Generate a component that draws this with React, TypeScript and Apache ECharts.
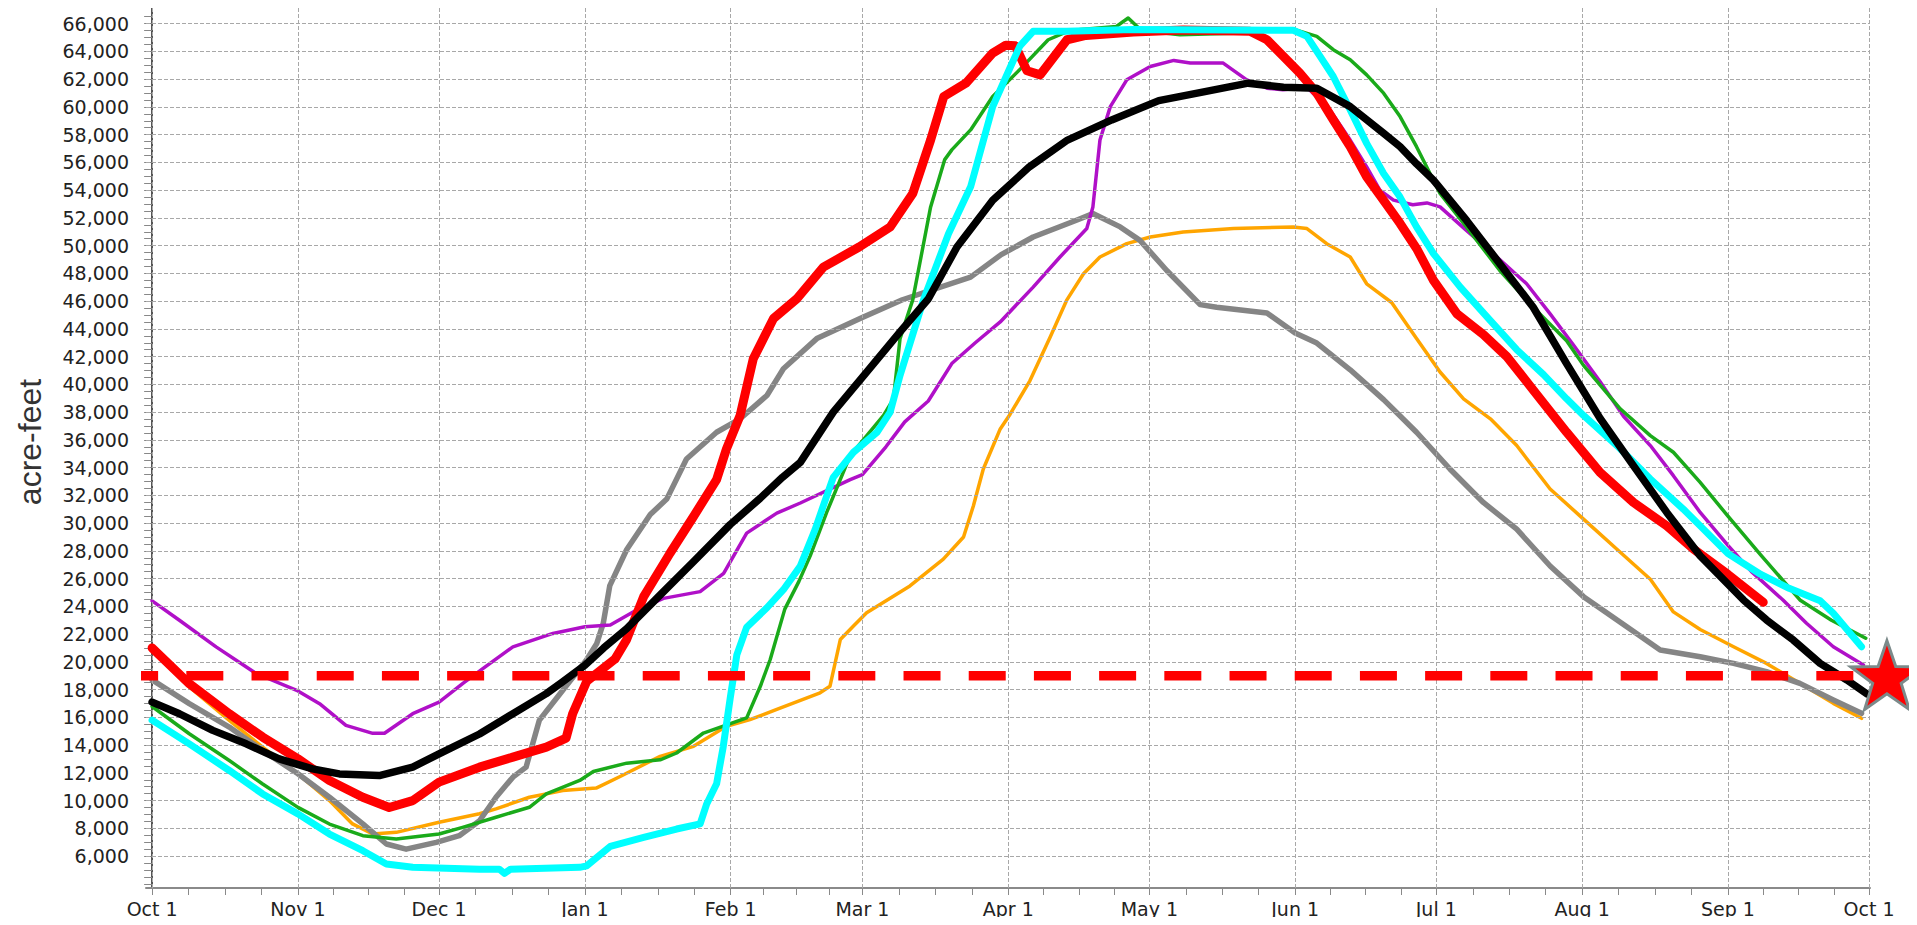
import React, { useEffect, useRef } from "react";
import * as echarts from "echarts";

// Day index: Oct 1 = 0 ... next Oct 1 = 365
const monthDays = [0, 31, 61, 92, 123, 151, 182, 212, 243, 273, 304, 335, 365];
const monthLabels = ["Oct 1", "Nov 1", "Dec 1", "Jan 1", "Feb 1", "Mar 1", "Apr 1", "May 1", "Jun 1", "Jul 1", "Aug 1", "Sep 1", "Oct 1"];
const yTickValues = [6000, 8000, 10000, 12000, 14000, 16000, 18000, 20000, 22000, 24000, 26000, 28000, 30000, 32000, 34000, 36000, 38000, 40000, 42000, 44000, 46000, 48000, 50000, 52000, 54000, 56000, 58000, 60000, 62000, 64000, 66000];
const targetLevel = 19000;

const redData = [[0, 21000], [7.9, 18430], [16.4, 16260], [23.5, 14580], [31, 13010], [37.7, 11450], [44.8, 10240], [50.4, 9500], [55.4, 10000], [61, 11330], [69.6, 12410], [76.7, 13130], [83.8, 13850], [88, 14500], [89.4, 16260], [92.4, 18600], [98.4, 20200], [100.8, 21560], [104.5, 24700], [110.1, 27830], [115.1, 30480], [120, 33130], [122.1, 35350], [125, 37760], [127.8, 41850], [132.1, 44750], [137, 46150], [142.7, 48450], [150.3, 49900], [156.9, 51350], [161.7, 53760], [165.5, 57610], [168.3, 60750], [173, 61710], [178.7, 63880], [181.5, 64450], [183.5, 64400], [186, 62600], [188.8, 62310], [194.5, 64840], [198.5, 65150], [208.6, 65400], [219.2, 65550], [233.4, 65450], [237, 64840], [240.5, 63640], [244, 62430], [247.6, 60990], [251.1, 59060], [254.7, 57130], [258.2, 54960], [261.8, 53270], [265.3, 51600], [268.8, 49800], [272.4, 47500], [277.4, 45080], [283, 43600], [288, 42000], [293.6, 39600], [300.7, 36550], [307.8, 33660], [314.9, 31490], [322, 29800], [327.7, 28120], [335, 26300], [342.5, 24300]];

const blackData = [[0, 17100], [5.8, 16260], [12.9, 15060], [20, 14090], [27, 13010], [34.1, 12290], [39.8, 11925], [48.3, 11800], [55.4, 12410], [61, 13370], [69.6, 14800], [76.7, 16260], [83.8, 17710], [87, 18500], [92, 19760], [96, 21000], [100.9, 22400], [108, 24820], [115.1, 27230], [122.9, 29900], [129.3, 31800], [134, 33300], [137.8, 34380], [144.8, 38000], [151.9, 40890], [159, 43780], [165, 46150], [171.1, 49900], [178.7, 53270], [186.5, 55680], [194.6, 57610], [204, 59060], [214, 60450], [223, 61050], [233, 61710], [240.5, 61420], [247.6, 61350], [254.7, 60020], [261.8, 58100], [265.3, 57130], [268.8, 55900], [272.4, 54720], [279.4, 51830], [286.5, 48700], [293.6, 45560], [300.7, 41500], [307.8, 37560], [314.9, 34140], [322, 30770], [329.1, 27640], [338.3, 24460], [343.2, 23020], [348.9, 21570], [354.6, 19890], [360.3, 18690], [364.5, 17700]];

const grayData = [[0, 18700], [7.9, 16990], [16.4, 15300], [23.5, 13610], [31, 11930], [37.7, 10240], [44.8, 8320], [49.8, 6870], [54, 6500], [60.4, 6990], [65.3, 7470], [69.6, 8550], [73.1, 10240], [76.7, 11690], [79.5, 12410], [82.3, 15780], [87.3, 17950], [92.3, 20120], [94.5, 21300], [95.9, 22770], [97.3, 25500], [100.9, 28100], [105.9, 30620], [109.4, 31730], [113.6, 34620], [120, 36550], [125, 37520], [130.7, 39200], [134.2, 41130], [141.3, 43300], [150.5, 44750], [159.5, 46100], [174, 47730], [180.5, 49350], [187.3, 50620], [196.5, 51830], [200, 52310], [205.8, 51350], [210, 50380], [215.7, 48210], [222.8, 45750], [226.3, 45560], [237, 45150], [243, 43700], [247.6, 42980], [254.7, 41050], [261.8, 38900], [268.8, 36550], [275.9, 33900], [283, 31490], [290.1, 29560], [297.2, 26910], [304.3, 24700], [313.5, 22530], [320.6, 20850], [329.1, 20370], [336.2, 19890], [343.2, 19290], [350.3, 18450], [357.4, 17250], [363.4, 16290]];

const orangeData = [[0, 20900], [7.9, 18190], [16.4, 15780], [23.5, 13850], [31, 11930], [37.7, 10000], [42.6, 8320], [46.9, 7590], [51.9, 7710], [61, 8440], [69.6, 9050], [73.1, 9400], [80.2, 10240], [87.3, 10720], [94.4, 10900], [99.5, 11740], [108, 13190], [115.1, 13910], [122.1, 15360], [127.1, 15840], [132.8, 16570], [142, 17770], [144.1, 18240], [146.3, 21610], [149.1, 22580], [151.9, 23540], [161.1, 25470], [168.2, 27400], [172.5, 29000], [174.6, 31250], [176.7, 33900], [180.3, 36790], [182.4, 37850], [186.6, 40260], [190.9, 43400], [194.4, 46050], [198, 47970], [201.5, 49180], [207.2, 50140], [212.2, 50620], [219.2, 50990], [229.9, 51230], [242.6, 51350], [245.5, 51230], [249.7, 50140], [254.7, 49180], [258.2, 47250], [263.5, 45900], [268.8, 43300], [273.8, 40890], [278.8, 38960], [284.5, 37520], [290.1, 35590], [297.2, 32460], [304.3, 30290], [311.4, 28120], [318.5, 25950], [323.4, 23600], [329.1, 22330], [336.2, 21090], [343.2, 19890], [350.3, 18450], [357.4, 17010], [363.4, 15930]];

const greenData = [[0, 16780], [7.9, 14820], [16.4, 12890], [23.5, 11200], [31, 9510], [37.7, 8310], [44.8, 7470], [51.9, 7230], [61, 7590], [66, 8070], [73.1, 8800], [80.2, 9520], [83.8, 10480], [90.9, 11450], [93.8, 12100], [100.9, 12700], [108, 12940], [111.5, 13430], [117.2, 14870], [126.4, 15960], [129.3, 18240], [131.4, 20170], [134.5, 23800], [137.5, 25800], [139.9, 27640], [143.4, 30770], [148.4, 34860], [155.5, 37760], [157.6, 38960], [159, 43300], [161.7, 46090], [165.5, 52790], [168.5, 56200], [170, 56900], [174, 58340], [178.7, 60750], [184.4, 62670], [190.5, 64840], [195, 65500], [205, 65800], [207.5, 66410], [210.3, 65500], [218.5, 65200], [230, 65300], [242.6, 65610], [247.6, 65080], [251.1, 64120], [254.7, 63400], [258.2, 62310], [261.8, 60990], [265.3, 59300], [268.8, 57130], [273.8, 53760], [279.4, 51350], [286.5, 48210], [293.6, 45560], [300.7, 43150], [304.3, 41370], [312.1, 38240], [318.5, 36310], [323.4, 35110], [329.1, 32940], [335, 30500], [342, 27700], [350.3, 24460], [357, 23000], [364.3, 21700]];

const cyanData = [[0, 15800], [7.9, 14090], [16.4, 12170], [23.5, 10480], [31, 9040], [37.7, 7590], [44.8, 6390], [49.8, 5430], [55.4, 5190], [69.6, 5060], [73.8, 5060], [74.9, 4750], [76.2, 5060], [90.9, 5190], [92.4, 5300], [97.4, 6700], [104.5, 7350], [111.5, 7950], [116.5, 8320], [117.9, 9760], [120, 11210], [121.4, 13860], [122.9, 17400], [124.3, 20500], [126.4, 22500], [130.7, 23900], [134.2, 25200], [137.8, 26900], [140.9, 29500], [143.4, 31940], [144.8, 33300], [149.1, 35110], [154.1, 36550], [156.9, 38000], [159, 40650], [164, 46100], [169.3, 50860], [174, 54240], [178.7, 60020], [182.5, 62910], [184.5, 64400], [187.3, 65450], [194.4, 65450], [208.6, 65570], [230, 65550], [242.6, 65520], [245.5, 65080], [248.3, 63640], [251.1, 62190], [254.7, 59780], [258.2, 57370], [261.8, 55200], [265.3, 53500], [268.8, 51350], [272.4, 49420], [278.1, 47010], [284.5, 44600], [290.1, 42500], [295.8, 40700], [300.7, 38960], [304.3, 37760], [311.4, 35590], [318.5, 33180], [325.5, 31010], [329.1, 29800], [335, 27800], [342, 26300], [348, 25300], [354.6, 24400], [357.4, 23500], [363.4, 21090]];

const purpleData = [[0, 24400], [5.8, 23000], [13.6, 21080], [22.1, 19160], [31, 17900], [35.6, 16985], [41.2, 15420], [46.9, 14850], [49.4, 14850], [55.4, 16263], [61, 17100], [66, 18430], [70.3, 19516], [76.7, 21080], [85.2, 22047], [92, 22530], [97.4, 22650], [103, 23730], [108.7, 24577], [116.5, 25060], [121.5, 26385], [126.4, 29280], [132.8, 30720], [137.8, 31450], [148.4, 33130], [151, 33500], [156, 35500], [160, 37300], [165, 38800], [170, 41500], [175, 43000], [180.3, 44500], [187.3, 47010], [193, 49180], [198.7, 51230], [200, 52790], [201.5, 57610], [203.7, 60020], [207.2, 61950], [212.2, 62915], [217.2, 63350], [220.7, 63160], [227.7, 63160], [232.7, 61950], [237, 61350], [240.4, 61230], [245.5, 61420], [250.4, 59780], [254.7, 57610], [258.2, 55680], [261, 54000], [263.9, 53280], [268, 52950], [271, 53080], [273.8, 52790], [279.4, 51100], [285.1, 49420], [292.2, 47250], [297.2, 45080], [302, 42910], [307.8, 40200], [312.8, 37700], [318.5, 35590], [323.4, 33420], [329.1, 30770], [335, 28400], [340, 26500], [346.7, 24460], [351.7, 22780], [357.4, 21090], [363.8, 19770]];

const targetLineDays = [-4.25, 362.3];
const starDay = 368.8;

function starPoints(cx: number, cy: number, R: number, r: number) {
  const pts: number[][] = [];
  for (let i = 0; i < 10; i++) {
    const a = -Math.PI / 2 + (i * Math.PI) / 5;
    const rad = i % 2 === 0 ? R : r;
    pts.push([cx + rad * Math.cos(a), cy + rad * Math.sin(a)]);
  }
  return pts;
}

export default function App() {
  const ref = useRef<HTMLDivElement>(null);
  useEffect(() => {
    if (!ref.current) return;
    const chart = echarts.init(ref.current, null, { renderer: "svg" });
    const xMinor: number[] = [];
    for (let i = 0; i < monthDays.length - 1; i++) {
      const a = monthDays[i], b = monthDays[i + 1];
      xMinor.push(a, a + (b - a) * 0.25, a + (b - a) * 0.5, a + (b - a) * 0.75);
    }
    xMinor.push(365);
    const yMinor: number[] = [];
    for (let v = 4000; v <= 66500; v += 500) yMinor.push(v);

    const line = (name: string, data: number[][], color: string, width: number, z: number) => ({
      name,
      type: "line",
      data,
      symbol: "none",
      showSymbol: false,
      lineStyle: { color, width, join: "round", cap: "round" },
      z,
      silent: true,
    });

    const fontFamily = "'DejaVu Sans', Verdana, sans-serif";
    const nameText = {
      type: "text",
      x: 30,
      y: 442,
      rotation: Math.PI / 2,
      style: {
        text: "acre-feet",
        fontSize: 32,
        fontFamily: "'Liberation Sans', Arial, sans-serif",
        fill: "#333",
        align: "center",
        verticalAlign: "middle",
      },
    };
    chart.setOption({
      animation: false,
      backgroundColor: "#ffffff",
      grid: { left: 146, right: 47, top: 7, bottom: 37, containLabel: false },
      xAxis: {
        type: "value",
        min: -1.3,
        max: 365.2,
        axisLine: { show: true, lineStyle: { color: "#8a8a8a", width: 2 } },
        axisTick: { show: true, customValues: xMinor, length: 7, lineStyle: { color: "#8a8a8a", width: 1 } },
        axisLabel: {
          customValues: monthDays,
          formatter: (v: number) => {
            const i = monthDays.indexOf(Math.round(v));
            return i >= 0 ? monthLabels[i] : "";
          },
          fontSize: 19,
          fontFamily,
          color: "#222",
          margin: 11,
        },
        splitLine: { show: false },
      },
      yAxis: {
        type: "value",
        min: 3700,
        max: 67200,
        axisLine: { show: true, lineStyle: { color: "#555", width: 2 } },
        axisTick: { show: true, customValues: yMinor, length: 8, lineStyle: { color: "#888", width: 1 } },
        axisLabel: {
          customValues: yTickValues,
          formatter: (v: number) => Math.round(v).toLocaleString("en-US"),
          fontSize: 19,
          fontFamily,
          color: "#222",
          margin: 17,
        },
        splitLine: { show: false },
      },
      graphic: [nameText],
      series: [
        {
          type: "line",
          data: [],
          z: 1,
          silent: true,
          markLine: {
            silent: true,
            symbol: ["none", "none"],
            label: { show: false },
            lineStyle: { type: [4, 2], color: "#a8a8a8", width: 1 },
            data: [
              ...yTickValues.map((v) => ({ yAxis: v })),
              ...monthDays.map((d) => ({ xAxis: d })),
            ],
          },
        },
        line("orange", orangeData, "#ffa500", 3.5, 2),
        line("gray", grayData, "#858585", 5.5, 3),
        line("purple", purpleData, "#b010c8", 3.5, 4),
        line("green", greenData, "#1aaa1a", 3.5, 5),
        line("red", redData, "#ff0000", 9, 6),
        line("cyan", cyanData, "#00ffff", 7, 7),
        line("black", blackData, "#000000", 7.5, 8),
        {
          type: "line",
          data: targetLineDays.map((d) => [d, targetLevel]),
          symbol: "none",
          clip: false,
          silent: true,
          z: 10,
          lineStyle: { color: "#ff0000", width: 9.5, type: [37, 28.2], dashOffset: 11.2, cap: "butt" },
        },
      ],
    });

    const p = chart.convertToPixel({ gridIndex: 0 }, [starDay, targetLevel]) as number[];
    chart.setOption({
      graphic: [
        nameText,
        {
          type: "polygon",
          z: 20,
          shape: { points: starPoints(p[0], p[1] + 3, 38, 15) },
          style: { fill: "#ff0000", stroke: "#7b8a8a", lineWidth: 3 },
        },
      ],
    });

    return () => chart.dispose();
  }, []);
  return <div ref={ref} style={{ width: 1917, height: 925, margin: -8 }} />;
}
